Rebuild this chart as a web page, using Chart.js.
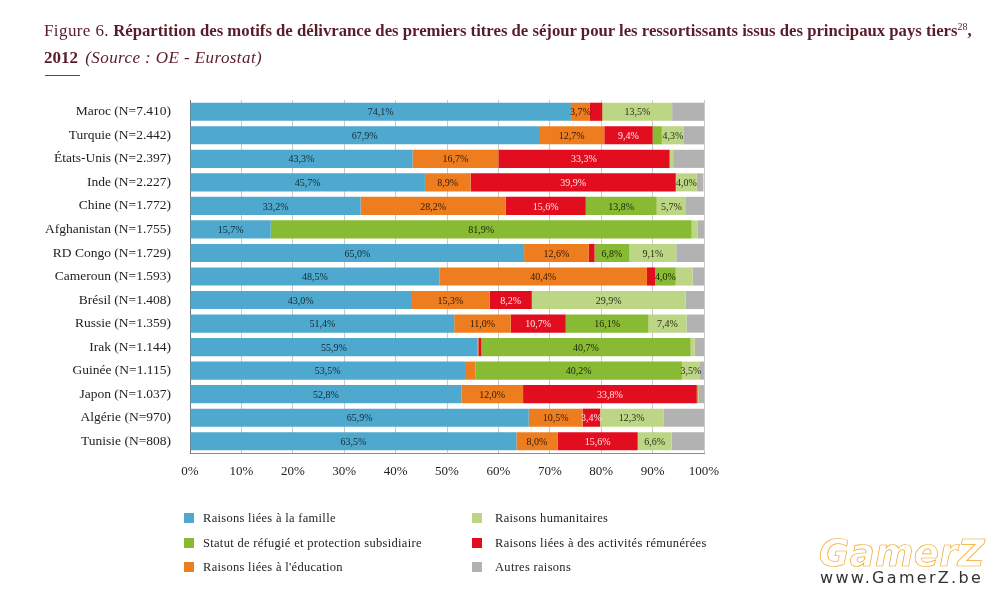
<!DOCTYPE html>
<html lang="fr">
<head>
<meta charset="utf-8">
<title>Figure 6</title>
<script src="https://cdn.jsdelivr.net/npm/chart.js@4/dist/chart.umd.min.js"></script>
<style>
html,body{margin:0;padding:0;background:#fff;width:1004px;height:594px;overflow:hidden}
#wrap{position:relative;width:1004px;height:594px}
canvas{position:absolute;left:0;top:0}
.t{position:absolute;font-family:"Liberation Serif",serif;color:#5a1c28;white-space:nowrap}
#t1{left:44px;top:21px;font-size:17px;line-height:20px}
#t1 .n{letter-spacing:.4px}
#t1 b{font-size:16.72px}
#t2{left:44px;top:48px;font-size:17px;line-height:20px}
#t2 i{letter-spacing:.42px;margin-left:3px}
sup{font-size:10px;line-height:0;vertical-align:6px}
#rule{position:absolute;left:45px;top:75px;width:35px;height:1px;background:#7a3a44}
.lg{position:absolute;font-family:"Liberation Serif",serif;font-size:12.5px;letter-spacing:.3px;color:#222;white-space:nowrap;line-height:16px}
.sw{position:absolute;width:10px;height:10px}
#wm1{position:absolute;left:819px;top:532px;font-family:"DejaVu Sans",sans-serif;font-style:italic;font-weight:bold;font-size:37px;letter-spacing:.3px;line-height:44px;color:#fff;-webkit-text-stroke:.7px #f5a623;white-space:nowrap}
#wm2{position:absolute;left:820px;top:569px;font-family:"DejaVu Sans",sans-serif;font-size:16px;letter-spacing:2.3px;line-height:18px;color:#333;white-space:nowrap}
</style>
</head>
<body>
<div id="wrap">
<canvas id="c" width="1004" height="594"></canvas>
<div class="t" id="t1"><span class="n">Figure 6.</span> <b>Répartition des motifs de délivrance des premiers titres de séjour pour les ressortissants issus des principaux pays tiers</b><sup>28</sup><b>,</b></div>
<div class="t" id="t2"><b>2012</b> <i>(Source : OE - Eurostat)</i></div>
<div id="rule"></div>
<div id="legend"></div>
<div id="wm1">GamerZ</div>
<div id="wm2">www.GamerZ.be</div>
</div>
<script>
const categories = ["Maroc (N=7.410)","Turquie (N=2.442)","États-Unis (N=2.397)","Inde (N=2.227)","Chine (N=1.772)","Afghanistan (N=1.755)","RD Congo (N=1.729)","Cameroun (N=1.593)","Brésil (N=1.408)","Russie (N=1.359)","Irak (N=1.144)","Guinée (N=1.115)","Japon (N=1.037)","Algérie (N=970)","Tunisie (N=808)"];
const famille   = [74.1,67.9,43.3,45.7,33.2,15.7,65.0,48.5,43.0,51.4,55.9,53.5,52.8,65.9,63.5];
const education = [3.7,12.7,16.7,8.9,28.2,0,12.6,40.4,15.3,11.0,0.2,2.0,12.0,10.5,8.0];
const activites = [2.4,9.4,33.3,39.9,15.6,0,1.1,1.6,8.2,10.7,0.6,0,33.8,3.4,15.6];
const refugie   = [0.1,1.8,0.1,0.1,13.8,81.9,6.8,4.0,0,16.1,40.7,40.2,0.3,0,0];
const humanit   = [13.5,4.3,0.6,4.0,5.7,1.2,9.1,3.3,29.9,7.4,0.8,3.5,0.1,12.3,6.6];
const autres    = [6.2,3.9,6.0,1.3,3.5,1.2,5.4,2.2,3.6,3.4,1.8,0.8,1.0,7.9,6.3];
const xTicks = [0,10,20,30,40,50,60,70,80,90,100];

const C = {fam:"#4fa8cd",edu:"#ee7d20",act:"#e30d20",ref:"#88bb33",hum:"#bdd685",aut:"#b2b2b3"};
const datasets = [
  {label:"Raisons liées à la famille",data:famille,backgroundColor:C.fam,txt:"#142a35"},
  {label:"Raisons liées à l'éducation",data:education,backgroundColor:C.edu,txt:"#2e1a08"},
  {label:"Raisons liées à des activités rémunérées",data:activites,backgroundColor:C.act,txt:"#ffe6e8"},
  {label:"Statut de réfugié et protection subsidiaire",data:refugie,backgroundColor:C.ref,txt:"#1a2608"},
  {label:"Raisons humanitaires",data:humanit,backgroundColor:C.hum,txt:"#2a3018"},
  {label:"Autres raisons",data:autres,backgroundColor:C.aut,noLabel:true}
];

const segLabels = {
  id:"segLabels",
  afterDatasetsDraw(chart){
    const g = chart.ctx;
    g.save();
    g.font = "10px 'Liberation Serif', serif";
    g.textAlign = "center"; g.textBaseline = "middle";
    chart.data.datasets.forEach((ds,i)=>{
      if(ds.noLabel) return;
      chart.getDatasetMeta(i).data.forEach((el,j)=>{
        const v = ds.data[j];
        if(v < 3.4) return;
        g.fillStyle = ds.txt;
        g.fillText(v.toFixed(1).replace(".",",")+"%",(el.x+el.base)/2,el.y+1);
      });
    });
    g.restore();
  }
};

new Chart(document.getElementById("c"),{
  type:"bar",
  data:{labels:categories,datasets},
  plugins:[segLabels],
  options:{
    indexAxis:"y",responsive:false,animation:false,
    layout:{padding:{left:0,top:100,right:300,bottom:101}},
    plugins:{legend:{display:false},tooltip:{enabled:false},title:{display:false}},
    datasets:{bar:{categoryPercentage:1,barPercentage:0.77,borderWidth:0}},
    scales:{
      x:{
        stacked:true,min:0,max:100,
        afterBuildTicks(s){s.ticks=xTicks.map(v=>({value:v}));},
        afterFit(s){s.height=40;},
        grid:{color:"#c9c9c9",lineWidth:1,drawTicks:false},
        border:{color:"#8a8a8a",width:1},
        ticks:{padding:11,maxRotation:0,autoSkip:false,color:"#222",font:{family:"'Liberation Serif',serif",size:13},callback:v=>v+"%"}
      },
      y:{
        stacked:true,
        afterFit(s){s.width=190;},
        grid:{display:false,drawTicks:false},
        border:{color:"#777",width:1},
        ticks:{padding:19,autoSkip:false,color:"#222",font:{family:"'Liberation Serif',serif",size:13.5}}
      }
    }
  }
});

const legendRows = [
  [0,186,518,17],[3,186,543,17],[1,186,567,17],
  [4,474,518,21],[2,474,543,21],[5,474,567,21]
];
const lg = document.getElementById("legend");
legendRows.forEach(([i,x,y,gap])=>{
  const s = document.createElement("div");
  s.className = "sw";
  s.style.cssText = `left:${x-2}px;top:${y-5}px;background:${datasets[i].backgroundColor}`;
  lg.appendChild(s);
  const t = document.createElement("div");
  t.className = "lg";
  t.style.cssText = `left:${x+gap}px;top:${y-8}px`;
  t.textContent = datasets[i].label;
  lg.appendChild(t);
});
</script>
</body>
</html>
